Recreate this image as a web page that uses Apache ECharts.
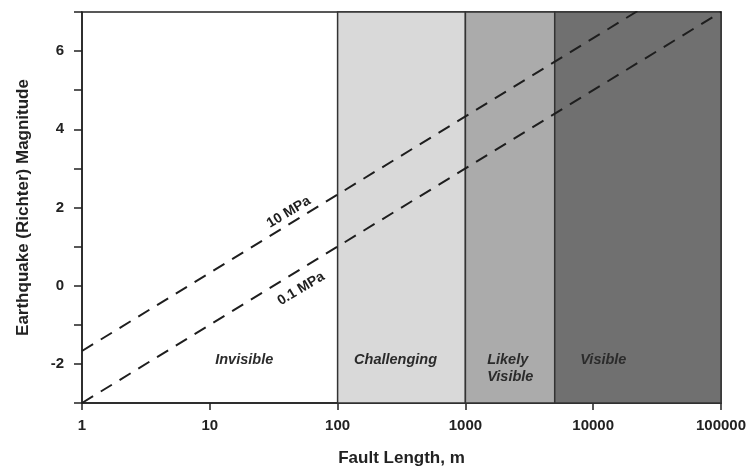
<!DOCTYPE html>
<html>
<head>
<meta charset="utf-8">
<script src="https://cdn.jsdelivr.net/npm/echarts@6/dist/echarts.min.js"></script>
<style>
  html, body { margin: 0; padding: 0; background: #fff; }
  #chart { width: 748px; height: 468px; }
</style>
</head>
<body>
<div id="chart"></div>
<script>
// Fault length (m) sampled at each decade
const faultLength = [1, 10, 100, 1000, 10000, 100000];
// Magnitude for each stress drop
const mag10MPa = [-1.67, 0.33, 2.33, 4.33, 6.33, 8.33];
const mag01MPa = [-3.0, -1.0, 1.0, 3.0, 5.0, 7.0];

// Detectability bands along fault length
const bandNames = ['Challenging', 'Likely Visible', 'Visible'];
const bandStart = [100, 1000, 5000];
const bandEnd = [1000, 5000, 100000];
const bandColors = ['#d9d9d9', '#ababab', '#707070'];

// Band captions
const captionText = ['Invisible', 'Challenging', 'Likely\nVisible', 'Visible'];
const captionX = [18.6, 284, 1480, 12000];
const captionY = [-1.9, -1.9, -2.11, -1.9];
const captionAlign = ['center', 'center', 'left', 'center'];

// Line captions
const lineLabelText = ['10 MPa', '0.1 MPa'];
const lineLabelX = [41.5, 51.7];
const lineLabelY = [1.88, -0.08];

// Axis ranges
const yMin = -3, yMax = 7;
const xMin = 1, xMax = 100000;

const FONT = '"Liberation Sans", Arial, Helvetica, sans-serif';

const chart = echarts.init(document.getElementById('chart'), null, { renderer: 'canvas' });

const pairs = (xs, ys) => xs.map((x, i) => [x, ys[i]]);

const dashStyle = { color: '#1e1e1e', width: 2, type: [13, 9] };

const option = {
  animation: false,
  grid: {
    left: 82, right: 27, top: 12, bottom: 65,
    containLabel: false, outerBoundsMode: 'none',
    show: true, borderColor: '#222', borderWidth: 1.5, backgroundColor: 'transparent'
  },
  xAxis: {
    type: 'log', logBase: 10, min: xMin, max: xMax,
    name: 'Fault Length, m', nameLocation: 'middle', nameGap: 47,
    nameTextStyle: { fontFamily: FONT, fontWeight: 'bold', fontSize: 17, color: '#222' },
    axisLine: { show: true, onZero: false, lineStyle: { color: '#222', width: 1.5 } },
    axisTick: { show: true, length: 7, inside: false, lineStyle: { color: '#222', width: 1.5 } },
    minorTick: { show: false },
    splitLine: { show: false },
    axisLabel: {
      margin: 15, fontFamily: FONT, fontWeight: 'bold', fontSize: 15, color: '#222',
      formatter: v => String(Math.round(v))
    }
  },
  yAxis: {
    type: 'value', min: yMin, max: yMax, interval: 1,
    name: 'Earthquake (Richter) Magnitude', nameLocation: 'middle', nameGap: 50,
    nameTextStyle: { fontFamily: FONT, fontWeight: 'bold', fontSize: 17, color: '#222' },
    axisLine: { show: true, onZero: false, lineStyle: { color: '#222', width: 1.5 } },
    axisTick: { show: true, length: 8, lineStyle: { color: '#222', width: 1.5 } },
    splitLine: { show: false },
    axisLabel: {
      margin: 18, fontFamily: FONT, fontWeight: 'bold', fontSize: 15, color: '#222',
      formatter: v => (Math.round(v) % 2 === 0 ? String(Math.round(v)) : '')
    }
  },
  series: [
    {
      name: '10 MPa', type: 'line', data: pairs(faultLength, mag10MPa),
      showSymbol: false, symbol: 'none', lineStyle: dashStyle, z: 5, clip: true,
      markArea: {
        silent: true,
        label: { show: false },
        data: bandNames.map((n, i) => [
          { name: n, xAxis: bandStart[i], itemStyle: { color: bandColors[i], borderColor: '#333', borderWidth: 1.5, opacity: 1 } },
          { xAxis: bandEnd[i] }
        ])
      }
    },
    {
      name: '0.1 MPa', type: 'line', data: pairs(faultLength, mag01MPa),
      showSymbol: false, symbol: 'none', lineStyle: dashStyle, z: 5, clip: true
    },
    {
      type: 'scatter', symbolSize: 0, silent: true, z: 6,
      itemStyle: { opacity: 1 },
      data: captionText.map((t, i) => ({
        name: t, value: [captionX[i], captionY[i]],
        label: { align: captionAlign[i] }
      })),
      label: {
        show: true, position: 'inside', formatter: p => p.name,
        fontFamily: FONT, fontWeight: 'bold', fontStyle: 'italic', fontSize: 14.5,
        color: '#2b2b2b', lineHeight: 17, textBorderWidth: 0
      }
    },
    {
      type: 'scatter', symbolSize: 0, silent: true, z: 6,
      itemStyle: { opacity: 1 },
      data: lineLabelText.map((t, i) => ({ name: t, value: [lineLabelX[i], lineLabelY[i]] })),
      label: {
        show: true, position: 'inside', rotate: 31, formatter: p => p.name,
        fontFamily: FONT, fontWeight: 'bold', fontSize: 14, color: '#1e1e1e', textBorderWidth: 0
      }
    }
  ]
};

chart.setOption(option);
</script>
</body>
</html>
